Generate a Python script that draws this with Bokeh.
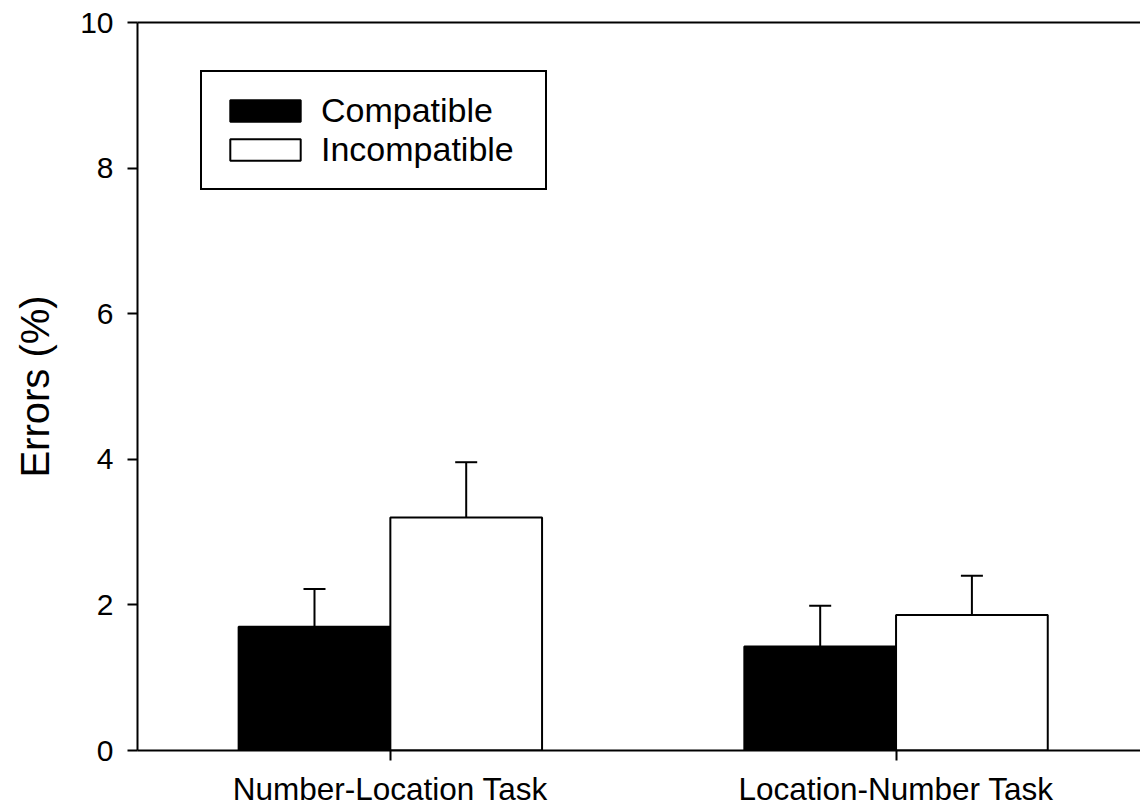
from bokeh.plotting import figure
from bokeh.models import (ColumnDataSource, Range1d, FixedTicker, LinearAxis,
                          Whisker, TeeHead, Legend, LegendItem)
from bokeh.transform import dodge
from bokeh.embed import file_html
from bokeh.resources import INLINE

# ---- data ----
categories = ["Number-Location Task", "Location-Number Task"]
compatible = [1.70, 1.43]
compatible_err = [0.52, 0.56]
incompatible = [3.20, 1.86]
incompatible_err = [0.76, 0.54]
series_names = ["Compatible", "Incompatible"]
y_ticks = [0, 2, 4, 6, 8, 10]

FONT = "Liberation Sans"
pos = list(range(1, len(categories) + 1))

src = ColumnDataSource(dict(
    x=pos,
    comp=compatible,
    comp_up=[v + e for v, e in zip(compatible, compatible_err)],
    inc=incompatible,
    inc_up=[v + e for v, e in zip(incompatible, incompatible_err)],
))

p = figure(width=1140, height=809, output_backend="svg", toolbar_location=None,
           x_range=Range1d(0.5, 2.4834), y_range=Range1d(0, 10),
           min_border_left=137, min_border_right=0, min_border_top=22,
           min_border_bottom=59)
p.outline_line_color = None
p.xgrid.visible = False
p.ygrid.visible = False
p.background_fill_color = "white"
p.border_fill_color = "white"

bw = 0.3
r1 = p.vbar(x=dodge("x", -bw / 2), top="comp", width=bw, bottom=0, source=src,
            fill_color="black", line_color="black", line_width=2)
r2 = p.vbar(x=dodge("x", bw / 2), top="inc", width=bw, bottom=0, source=src,
            fill_color="white", line_color="black", line_width=2)

w1 = Whisker(base=dodge("x", -bw / 2), lower="comp", upper="comp_up", source=src,
             dimension="height", line_color="black", line_width=2,
             lower_head=None, upper_head=TeeHead(size=22, line_width=2, line_color="black"))
w2 = Whisker(base=dodge("x", bw / 2), lower="inc", upper="inc_up", source=src,
             dimension="height", line_color="black", line_width=2,
             lower_head=None, upper_head=TeeHead(size=22, line_width=2, line_color="black"))
p.add_layout(w1)
p.add_layout(w2)

# y axis
ya = p.yaxis[0]
ya.ticker = FixedTicker(ticks=y_ticks)
ya.axis_label = "Errors (%)"
ya.axis_label_text_font = FONT
ya.axis_label_text_font_size = "40px"
ya.axis_label_text_font_style = "normal"
ya.axis_label_text_color = "black"
ya.axis_label_standoff = 20
ya.major_label_text_font = FONT
ya.major_label_text_font_size = "30px"
ya.major_label_text_color = "black"
ya.major_label_standoff = 14
ya.major_tick_out = 10
ya.major_tick_in = 0
ya.minor_tick_line_color = None
ya.axis_line_width = 2
ya.major_tick_line_width = 2
ya.axis_line_color = "black"
ya.major_tick_line_color = "black"

# x axis
xa = p.xaxis[0]
xa.ticker = FixedTicker(ticks=pos)
xa.major_label_overrides = {k: v for k, v in zip(pos, categories)}
xa.major_label_text_font = FONT
xa.major_label_text_font_size = "31.5px"
xa.major_label_text_color = "black"
xa.major_label_standoff = 10
xa.major_tick_out = 10
xa.major_tick_in = 0
xa.minor_tick_line_color = None
xa.axis_line_width = 2
xa.major_tick_line_width = 2
xa.axis_line_color = "black"
xa.major_tick_line_color = "black"

# top frame line
top = LinearAxis(ticker=FixedTicker(ticks=[]), major_label_text_font_size="0px",
                 major_tick_line_color=None, minor_tick_line_color=None,
                 axis_line_width=2, axis_line_color="black")
p.add_layout(top, "above")

legend = Legend(items=[LegendItem(label=series_names[0], renderers=[r1]),
                       LegendItem(label=series_names[1], renderers=[r2])],
                location=(63, 560), margin=0, padding=19, spacing=0,
                glyph_width=88, glyph_height=27, label_height=38, label_width=205,
                label_standoff=12, label_text_font=FONT,
                label_text_font_size="34px", label_text_color="black",
                border_line_color="black", border_line_width=2, border_line_alpha=1,
                background_fill_color="white", background_fill_alpha=1)
p.add_layout(legend, "center")

open("out.html", "w").write(file_html(p, INLINE))
